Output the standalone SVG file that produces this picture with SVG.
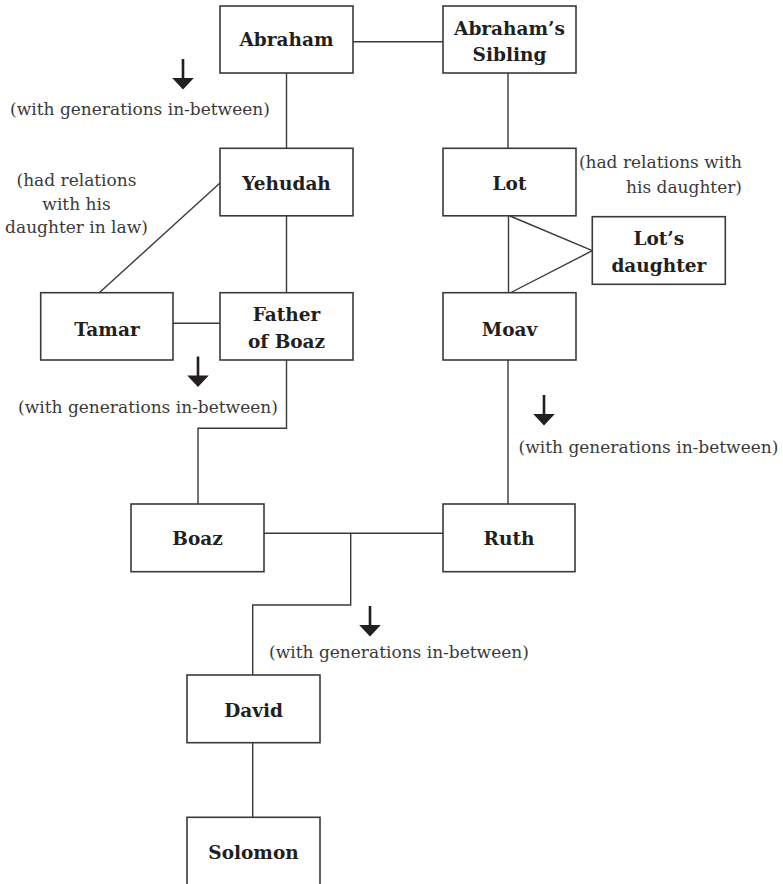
<svg xmlns="http://www.w3.org/2000/svg" xmlns:xlink="http://www.w3.org/1999/xlink" width="783" height="884" viewBox="0 0 783 884">
<style>
.box{fill:#fff;stroke:#3a3a3a;stroke-width:1.6}
.lbl{font-family:"DejaVu Serif","Liberation Serif",serif;font-weight:bold;font-size:18.5px;fill:#231f20;text-anchor:middle}
.note{font-family:"DejaVu Serif","Liberation Serif",serif;font-size:17px;fill:#3a3a3a}
.mid{text-anchor:middle}
.end{text-anchor:end}
.conn line,.conn polyline{stroke:#3a3a3a;stroke-width:1.4;fill:none}
</style>
<defs>
<g id="arrow">
<rect x="-1.3" y="0" width="2.6" height="21" fill="#231f20"/>
<polygon points="-10.8,19 10.8,19 0,30.5" fill="#231f20"/>
</g>
</defs>
<rect width="783" height="884" fill="#fff"/>
<g class="conn" id="connectors">
<line x1="353" y1="41.7" x2="443" y2="41.7"/>
<line x1="286.5" y1="73" x2="286.5" y2="148"/>
<line x1="508" y1="73" x2="508" y2="148"/>
<line x1="220" y1="183" x2="99" y2="293"/>
<line x1="286.5" y1="216" x2="286.5" y2="293"/>
<line x1="173" y1="323.3" x2="220" y2="323.3"/>
<line x1="508.5" y1="216" x2="508.5" y2="293"/>
<line x1="510" y1="216" x2="592.3" y2="250.7"/>
<line x1="510" y1="293" x2="592.3" y2="250.7"/>
<polyline points="286.5,360 286.5,428.3 198,428.3 198,504"/>
<line x1="508" y1="360" x2="508" y2="504"/>
<line x1="264" y1="533.3" x2="443" y2="533.3"/>
<polyline points="350.7,533.3 350.7,605 252.7,605 252.7,675"/>
<line x1="252.7" y1="743" x2="252.7" y2="817.3"/>
</g>
<g id="arrows">
<use xlink:href="#arrow" href="#arrow" transform="translate(183,59)"/>
<use xlink:href="#arrow" href="#arrow" transform="translate(198,356.5)"/>
<use xlink:href="#arrow" href="#arrow" transform="translate(544,395)"/>
<use xlink:href="#arrow" href="#arrow" transform="translate(370,606)"/>
</g>
<g id="notes">
<text class="note mid" x="140" y="115">(with generations in-between)</text>
<text class="note mid" x="148" y="413">(with generations in-between)</text>
<text class="note mid" x="648.5" y="452.7">(with generations in-between)</text>
<text class="note mid" x="399" y="658.3">(with generations in-between)</text>
<text class="note mid" x="76.5" y="186">(had relations</text>
<text class="note mid" x="76.5" y="210">with his</text>
<text class="note mid" x="76.5" y="233">daughter in law)</text>
<text class="note end" x="742" y="168">(had relations with</text>
<text class="note end" x="742" y="193">his daughter)</text>
</g>
<g id="abraham"><rect class="box" x="220" y="6" width="133" height="67"/><text class="lbl" x="286.5" y="46">Abraham</text></g>
<g id="abrahams-sibling"><rect class="box" x="443" y="6" width="133" height="67"/><text class="lbl" x="509.5" y="35">Abraham’s</text><text class="lbl" x="509.5" y="61">Sibling</text></g>
<g id="yehudah"><rect class="box" x="220" y="148.3" width="133" height="67.5"/><text class="lbl" x="286.5" y="190">Yehudah</text></g>
<g id="lot"><rect class="box" x="443" y="148.3" width="133" height="67.5"/><text class="lbl" x="509.5" y="190">Lot</text></g>
<g id="lots-daughter"><rect class="box" x="592.3" y="216.7" width="133" height="67.6"/><text class="lbl" x="658.8" y="245">Lot’s</text><text class="lbl" x="658.8" y="271.7">daughter</text></g>
<g id="tamar"><rect class="box" x="40.7" y="292.7" width="132.3" height="67.3"/><text class="lbl" x="107" y="336">Tamar</text></g>
<g id="father-of-boaz"><rect class="box" x="220" y="292.7" width="133" height="67.3"/><text class="lbl" x="286.5" y="321">Father</text><text class="lbl" x="286.5" y="347.7">of Boaz</text></g>
<g id="moav"><rect class="box" x="443" y="292.7" width="133" height="67.3"/><text class="lbl" x="509.5" y="336">Moav</text></g>
<g id="boaz"><rect class="box" x="131" y="504" width="133" height="67.7"/><text class="lbl" x="197.5" y="545">Boaz</text></g>
<g id="ruth"><rect class="box" x="443" y="504" width="132" height="67.7"/><text class="lbl" x="509" y="545">Ruth</text></g>
<g id="david"><rect class="box" x="187" y="675" width="133" height="67.7"/><text class="lbl" x="253.5" y="716.7">David</text></g>
<g id="solomon"><rect class="box" x="187" y="817.3" width="133" height="80"/><text class="lbl" x="253.5" y="859">Solomon</text></g>
</svg>
